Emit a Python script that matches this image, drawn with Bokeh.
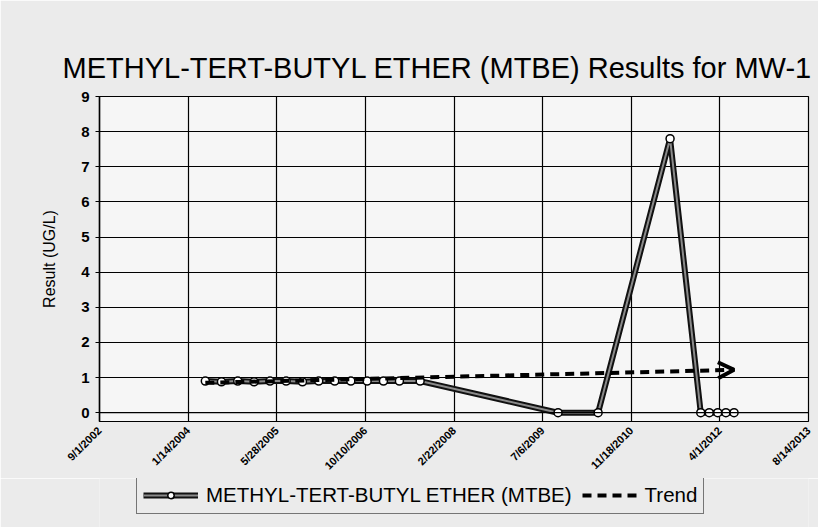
from datetime import datetime
from bokeh.plotting import figure
from bokeh.layouts import column
from bokeh.models import (Range1d, FixedTicker, Legend, LegendItem, Arrow, OpenHead,
                          Title, Span)
from bokeh.embed import file_html
from bokeh.resources import INLINE

# ---------------- data ----------------
tick_labels = ["9/1/2002", "1/14/2004", "5/28/2005", "10/10/2006", "2/22/2008",
               "7/6/2009", "11/18/2010", "4/1/2012", "8/14/2013"]
sample_dates = ["2004-04-20", "2004-07-20", "2004-10-20", "2005-01-20", "2005-04-20",
                "2005-07-20", "2005-10-20", "2006-01-20", "2006-04-20", "2006-07-20",
                "2006-10-20", "2007-01-20", "2007-04-20", "2007-08-15",
                "2009-10-01", "2010-05-15", "2011-06-25",
                "2011-12-15", "2012-02-01", "2012-03-20", "2012-05-05", "2012-06-20"]
mtbe_values = [0.9, 0.88, 0.9, 0.88, 0.9, 0.9, 0.88, 0.9, 0.9, 0.9,
               0.9, 0.9, 0.9, 0.9,
               0.0, 0.0, 7.8,
               0.0, 0.0, 0.0, 0.0, 0.0]
trend_dates = ["2004-04-20", "2012-06-20"]
trend_values = [0.85, 1.22]
y_ticks = [0, 1, 2, 3, 4, 5, 6, 7, 8, 9]
series_name = "METHYL-TERT-BUTYL ETHER (MTBE)"
trend_name = "Trend"

EPOCH = datetime(1970, 1, 1)


def to_ms(s, fmt):
    return int((datetime.strptime(s, fmt) - EPOCH).total_seconds() * 1000)


tick_ms = [to_ms(t, "%m/%d/%Y") for t in tick_labels]
x_ms = [to_ms(d, "%Y-%m-%d") for d in sample_dates]
trend_ms = [to_ms(d, "%Y-%m-%d") for d in trend_dates]

FONT = "Liberation Sans"
BORDER_BG = "#ebebeb"

p = figure(frame_width=709, frame_height=325, output_backend="svg", toolbar_location=None,
           x_range=Range1d(tick_ms[0], tick_ms[-1]), y_range=Range1d(-0.25, y_ticks[-1]),
           min_border_left=99, min_border_right=10, min_border_top=96, min_border_bottom=53)

p.background_fill_color = "#f6f6f6"
p.border_fill_color = BORDER_BG
p.outline_line_color = "black"
p.outline_line_width = 1.2

# title
p.title = Title(text="METHYL-TERT-BUTYL ETHER (MTBE) Results for MW-1", align="left",
                text_font=FONT, text_font_size="29px", text_font_style="normal",
                text_color="black", standoff=26, offset=-37)

# axes
xa = p.xaxis[0]
xa.ticker = FixedTicker(ticks=tick_ms)
xa.major_label_overrides = {t: l for t, l in zip(tick_ms, tick_labels)}
xa.major_label_orientation = 0.785
xa.major_label_text_font = FONT
xa.major_label_text_font_size = "11px"
xa.major_label_text_font_style = "bold"
xa.major_label_text_color = "black"
xa.axis_line_color = None
xa.major_tick_line_color = None
xa.minor_tick_line_color = None
xa.major_label_standoff = 1

ya = p.yaxis[0]
ya.ticker = FixedTicker(ticks=y_ticks)
ya.axis_label = "Result (UG/L)"
ya.axis_label_text_font = FONT
ya.axis_label_text_font_size = "16px"
ya.axis_label_text_font_style = "normal"
ya.axis_label_text_color = "black"
ya.axis_label_standoff = 20
ya.major_label_text_font = FONT
ya.major_label_text_font_size = "15px"
ya.major_label_text_font_style = "bold"
ya.major_label_text_color = "black"
ya.axis_line_color = "black"
ya.axis_line_width = 1.5
ya.major_tick_out = 4
ya.major_tick_in = 0
ya.major_tick_line_color = "black"
ya.minor_tick_line_color = None
ya.major_label_standoff = 6

p.xgrid.ticker = FixedTicker(ticks=tick_ms)
p.ygrid.ticker = FixedTicker(ticks=y_ticks)
p.grid.grid_line_color = "black"
p.grid.grid_line_width = 1.2
p.grid.grid_line_alpha = 1.0
p.add_layout(Span(location=y_ticks[0], dimension="width", line_color="black", line_width=1.2))

LINE_OUT = dict(line_color="#111111", line_width=6)
LINE_IN = dict(line_color="#8a8a8a", line_width=2)
MARK = dict(size=8, marker="circle", fill_color="white", line_color="black", line_width=1.5)
TREND = dict(line_color="black", line_width=4, line_dash="9 6")

# data series
p.line(x_ms, mtbe_values, **LINE_OUT)
p.line(x_ms, mtbe_values, **LINE_IN)
p.scatter(x_ms, mtbe_values, **MARK)

# trend
p.line(trend_ms, trend_values, **TREND)
p.add_layout(Arrow(end=OpenHead(size=16, line_width=4, line_color="black"),
                   x_start=trend_ms[0], y_start=trend_values[0],
                   x_end=trend_ms[-1], y_end=trend_values[-1],
                   line_color=None, line_width=0))

# ---- legend strip (separate figure under the chart, same series styles) ----
lf = figure(width=818, height=49, output_backend="svg", toolbar_location=None,
            x_range=Range1d(tick_ms[0], tick_ms[-1]), y_range=Range1d(100, 101),
            x_axis_type=None, y_axis_type=None, min_border=0)
lf.outline_line_color = None
lf.background_fill_color = BORDER_BG
lf.border_fill_color = BORDER_BG
g1 = lf.line(x_ms, mtbe_values, **LINE_OUT)
g2 = lf.line(x_ms, mtbe_values, **LINE_IN)
g3 = lf.scatter(x_ms, mtbe_values, **MARK)
g4 = lf.line(trend_ms, trend_values, **TREND)

legend = Legend(items=[LegendItem(label=series_name, renderers=[g1, g2, g3]),
                       LegendItem(label=trend_name, renderers=[g4])],
                orientation="horizontal", location=(37, 13),
                label_text_font=FONT, label_text_font_size="20.5px", label_text_color="black",
                glyph_width=55, glyph_height=16, spacing=10, padding=6, margin=0,
                label_standoff=8,
                border_line_color="black", border_line_width=1.2,
                background_fill_color=BORDER_BG, background_fill_alpha=1.0)
lf.add_layout(legend, "center")

open("out.html", "w").write(file_html(column(p, lf, spacing=0), INLINE))
